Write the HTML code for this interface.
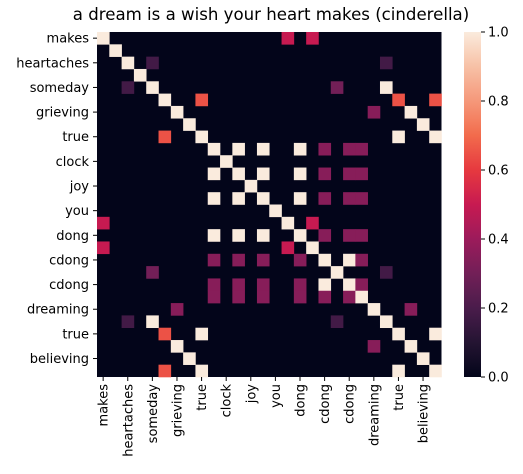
<!DOCTYPE html>
<html><head><meta charset="utf-8"><style>
html,body{margin:0;padding:0;background:#fff;}
svg{display:block;font-family:"DejaVu Sans","Liberation Sans",sans-serif;}
</style></head><body>
<svg id="chart" width="523" height="474" viewBox="0 0 523 474" xmlns="http://www.w3.org/2000/svg">
<text x="271" y="20" font-size="16.6" text-anchor="middle" fill="#000">a dream is a wish your heart makes (cinderella)</text>
<defs><linearGradient id="cbg" x1="0" y1="1" x2="0" y2="0"></linearGradient></defs>
<g id="cells"></g>
<g id="yax"></g>
<g id="xax"></g>
<rect id="cbar" x="464" y="32" width="17" height="345" fill="url(#cbg)"/>
<g id="cax"></g>
</svg>
<script>
const N = 28;
const tickLabels = ["makes","heartaches","someday","grieving","true","clock","joy","you","dong","cdong","cdong","dreaming","true","believing"];
// off-diagonal similarity entries [row, col, value] (symmetric pairs listed once)
const pairs = [
 [0,15,0.5],[0,17,0.5],[2,4,0.18],[2,23,0.18],[4,19,0.3],[4,23,1],
 [5,8,0.65],[5,24,0.65],[5,27,0.65],[6,22,0.35],[6,25,1],[7,26,1],[8,24,1],[8,27,1],
 [9,11,1],[9,13,1],[11,13,1],[9,16,1],[11,16,1],[13,16,1],
 [9,18,0.35],[11,18,0.35],[13,18,0.35],[16,18,0.35],
 [9,20,0.35],[11,20,0.35],[13,20,0.35],[16,20,0.35],
 [9,21,0.35],[11,21,0.35],[13,21,0.35],[16,21,0.35],
 [15,17,0.5],[18,20,1],[18,21,0.35],[20,21,0.35],[19,23,0.18],[22,25,0.35],[24,27,1]
];
const cbTicks = [0,0.2,0.4,0.6,0.8,1.0];
const stops=[[0,"#03051a"],[0.1,"#241432"],[0.2,"#4a1c4b"],[0.3,"#721f57"],[0.4,"#9c1b5b"],[0.5,"#c71a51"],[0.6,"#e6393f"],[0.7,"#f26b4c"],[0.8,"#f5987a"],[0.9,"#f7c1a6"],[1,"#faebdd"]];
function hex(h){return [1,3,5].map(i=>parseInt(h.substr(i,2),16));}
function cmap(v){for(let i=1;i<stops.length;i++){if(v<=stops[i][0]){const a=stops[i-1],b=stops[i];const t=(v-a[0])/(b[0]-a[0]);const ca=hex(a[1]),cb=hex(b[1]);return "rgb("+ca.map((c,k)=>Math.round(c+(cb[k]-c)*t)).join(",")+")";}}return stops[stops.length-1][1];}
const X0=97,Y0=32,W=344.5,H=345,cw=W/N,ch=H/N;
const xs=i=>X0+i*cw, ys=i=>Y0+i*ch;
const NS="http://www.w3.org/2000/svg";
const M=[];for(let r=0;r<N;r++){M.push(new Array(N).fill(0));M[r][r]=1;}
pairs.forEach(p=>{M[p[0]][p[1]]=p[2];M[p[1]][p[0]]=p[2];});
const g=document.getElementById("cells");
const bg=document.createElementNS(NS,"rect");
bg.setAttribute("x",X0);bg.setAttribute("y",Y0);bg.setAttribute("width",W);bg.setAttribute("height",H);bg.setAttribute("fill",cmap(0));


g.appendChild(bg);
for(let r=0;r<N;r++)for(let c=0;c<N;c++){const v=M[r][c];if(v<=0)continue;
 const e=document.createElementNS(NS,"rect");
 e.setAttribute("x",xs(c));e.setAttribute("y",ys(r));e.setAttribute("width",cw+0.3);e.setAttribute("height",ch+0.3);e.setAttribute("fill",cmap(v));
 
 
 g.appendChild(e);}
const ya=document.getElementById("yax"),xa=document.getElementById("xax");
tickLabels.forEach((l,k)=>{const i=2*k;
 const y=ys(i)+ch/2;
 const t=document.createElementNS(NS,"line");t.setAttribute("x1",X0-4);t.setAttribute("x2",X0);t.setAttribute("y1",y);t.setAttribute("y2",y);t.setAttribute("stroke","#000");
 
 
 ya.appendChild(t);
 const tx=document.createElementNS(NS,"text");tx.setAttribute("x",X0-8);tx.setAttribute("y",y+4.5);tx.setAttribute("text-anchor","end");tx.setAttribute("font-size","13");tx.textContent=l;
 
 
 ya.appendChild(tx);
 const x=xs(i)+cw/2;
 const t2=document.createElementNS(NS,"line");t2.setAttribute("x1",x);t2.setAttribute("x2",x);t2.setAttribute("y1",Y0+H);t2.setAttribute("y2",Y0+H+4);t2.setAttribute("stroke","#000");
 
 
 xa.appendChild(t2);
 const tx2=document.createElementNS(NS,"text");tx2.setAttribute("transform","translate("+(x+4.5)+","+(Y0+H+7)+") rotate(-90)");tx2.setAttribute("text-anchor","end");tx2.setAttribute("font-size","13");tx2.textContent=l;
 
 
 xa.appendChild(tx2);
});
const grad=document.getElementById("cbg");
for(let i=0;i<=20;i++){const s=document.createElementNS(NS,"stop");s.setAttribute("offset",i/20);s.setAttribute("stop-color",cmap(i/20));grad.appendChild(s);}
const ca=document.getElementById("cax");
cbTicks.forEach(v=>{const y=32+345*(1-v);
 const t=document.createElementNS(NS,"line");t.setAttribute("x1",481);t.setAttribute("x2",485);t.setAttribute("y1",y);t.setAttribute("y2",y);t.setAttribute("stroke","#000");
 
 
 ca.appendChild(t);
 const tx=document.createElementNS(NS,"text");tx.setAttribute("x",488);tx.setAttribute("y",y+4.5);tx.setAttribute("font-size","13");tx.textContent=v.toFixed(1);
 
 
 ca.appendChild(tx);
});
</script>
</body></html>
